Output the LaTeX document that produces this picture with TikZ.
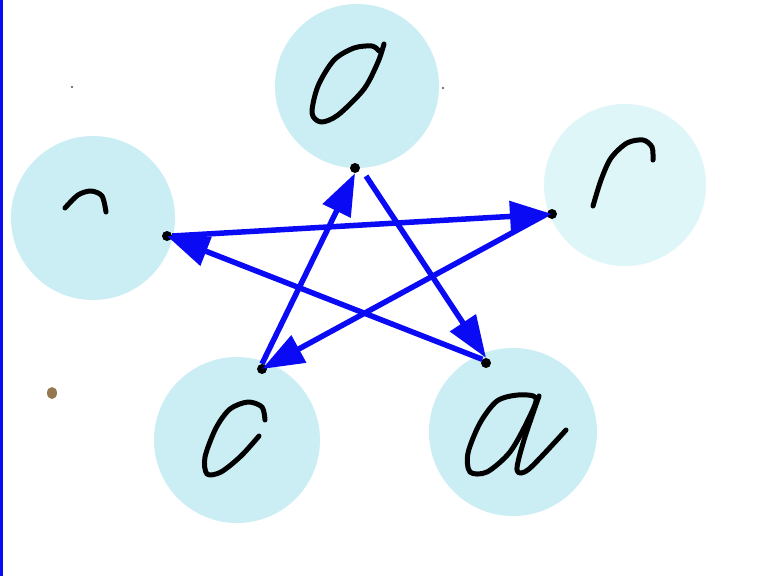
\documentclass[tikz,border=0pt]{standalone}
\usetikzlibrary{arrows.meta}
\definecolor{disc}{RGB}{202,238,244}
\definecolor{discpale}{RGB}{222,246,247}
\definecolor{arrowblue}{RGB}{10,10,245}
\definecolor{spot}{RGB}{150,120,80}
\tikzset{
  disk/.style={fill=disc, draw=none},
  pen/.style={line width=5pt, line cap=round, line join=round, black},
  dotmark/.style={circle, fill=black, inner sep=0pt, minimum size=10pt},
  link/.style={arrowblue, line width=5.5pt, -{Triangle[length=42pt 0 0,width=30pt 0 0]}},
}
\begin{document}
\begin{tikzpicture}[x=1pt,y=-1pt]
\useasboundingbox (0,0) rectangle (768,576);
\fill[white] (0,0) rectangle (768,576);
\fill[arrowblue] (0,0) rectangle (2.5,576);
% discs
\fill[disk] (357,86) circle [radius=82];
\fill[disk] (93,218) circle [radius=82];
\fill[discpale] (625,185) circle [radius=81];
\fill[disk] (237,440) circle [radius=83];
\fill[disk] (513,432) circle [radius=84];
% scan marks
\fill[spot] (52,393) ellipse [x radius=5, y radius=6];
\fill[black!70] (72,87) circle [radius=1.2];
\fill[black!70] (443,88) circle [radius=1.2];
% handwritten strokes
\draw[pen] plot[smooth] coordinates {(384,44) (378,62) (364,89) (338,115) (321,122) (312,113) (318,86) (334,60) (354,48) (372,46) (379,51)};
\draw[pen] plot[smooth] coordinates {(65,208) (78,195) (91,191) (102,196) (106,212)};
\draw[pen] plot[smooth] coordinates {(593,206) (601,180) (611,158) (627,143) (643,140) (652,147) (653,160)};
\draw[pen] plot[smooth] coordinates {(265,420) (262,407) (248,402) (230,409) (216,428) (205,457) (207,474) (221,472) (241,456) (259,436)};
\draw[pen] plot[smooth cycle] coordinates {(536,398) (518,395) (497,401) (480,423) (468,453) (470,472) (487,472) (510,452) (528,420)};
\draw[pen] plot[smooth] coordinates {(539,396) (524,440) (517,470) (529,469) (566,430)};
% dots
\node[dotmark] (O) at (355,168) {};
\node[dotmark] (L) at (167,236) {};
\node[dotmark] (R) at (552,214) {};
\node[dotmark] (C) at (262,369) {};
\node[dotmark] (A) at (486,363) {};
\coordinate (Ostart) at (366,176);
% star of arrows
\draw[link] (Ostart) -- (A.north);
\draw[link] (A.north west) -- (L.center);
\draw[link] (L.east) -- (R.center);
\draw[link] (R.west) -- (C.center);
\draw[link] (C.north) -- (O.south);
\end{tikzpicture}
\end{document}
